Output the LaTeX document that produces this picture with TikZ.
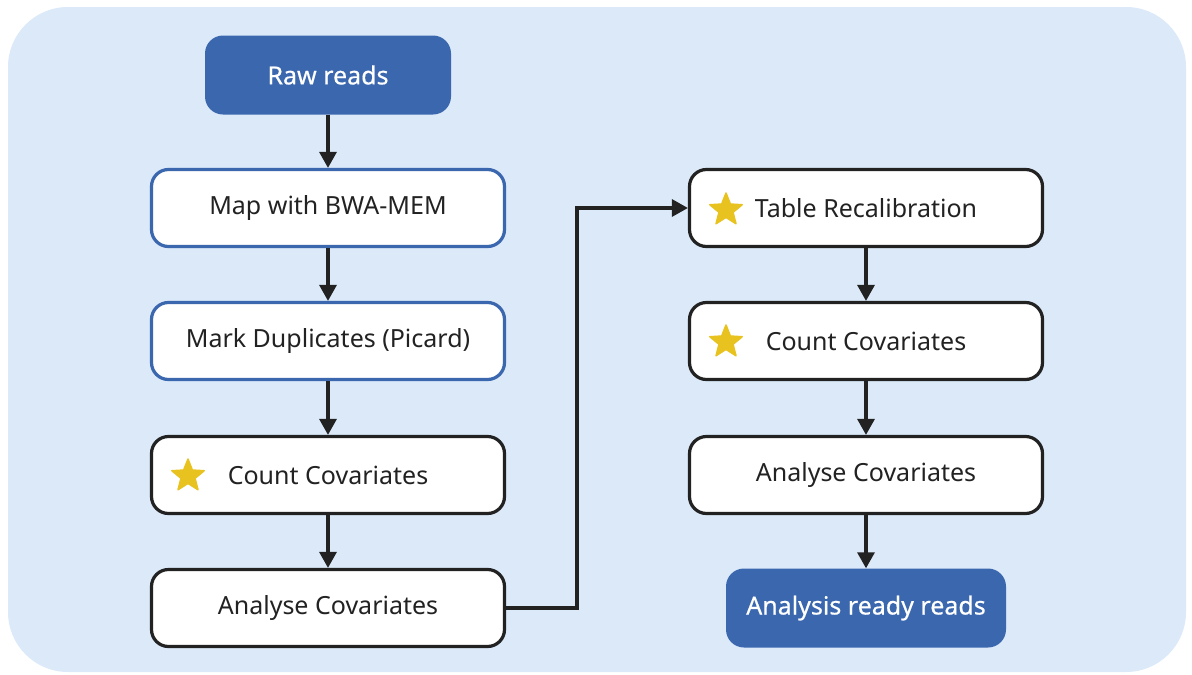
\documentclass[tikz,border=0pt]{standalone}
\usepackage{fontspec}
\setmainfont{Noto Sans}
\newfontfamily\boldish{Noto Sans}[FakeBold=0.5]
\usetikzlibrary{shapes.geometric,arrows.meta}
\definecolor{panel}{HTML}{DBE9F9}
\definecolor{deepblue}{HTML}{3A67AE}
\definecolor{ink}{HTML}{222222}
\definecolor{gold}{HTML}{E8C21E}
\begin{document}
\begin{tikzpicture}[x=1pt,y=-1pt,
  every node/.style={font=\fontsize{25}{29}\selectfont},
  stepbox/.style={draw=ink,line width=3.2pt,fill=white,rounded corners=17pt,
    minimum width=353pt,minimum height=77pt,text=ink},
  bluebox/.style={stepbox,draw=deepblue},
  endbox/.style={fill=deepblue,rounded corners=18pt,minimum height=79pt,text=white,
    font=\boldish\fontsize{25}{29}\selectfont},
  flow/.style={draw=ink,line width=3.2pt,-{Triangle[length=16pt,width=17pt]}},
  starmark/.style={star,star points=5,star point ratio=2.3,fill=gold,draw=gold,
    line width=1.5pt,line join=round,minimum size=34pt,inner sep=0pt}]
\useasboundingbox (0,0) rectangle (1192,675);
% light panel behind the whole flow
\path[fill=panel,rounded corners=60pt] (8,7) rectangle (1186,672);

\node[endbox,minimum width=246pt] (raw) at (328,75) {Raw reads};
\node[bluebox] (map) at (328,208) {Map with BWA-MEM};
\node[bluebox] (dup) at (328,341) {Mark Duplicates (Picard)};
\node[stepbox] (cnt1) at (328,475) {Count Covariates};
\node[stepbox] (ana1) at (328,608) {Analyse Covariates};

\node[stepbox] (tab) at (866,208) {Table Recalibration};
\node[stepbox] (cnt2) at (866,341) {Count Covariates};
\node[stepbox] (ana2) at (866,475) {Analyse Covariates};
\node[endbox,minimum width=280pt] (ready) at (866,608) {Analysis ready reads};

\node[starmark] (s1) at (188,476) {};
\node[starmark] (s2) at (726,210) {};
\node[starmark] (s3) at (726,342) {};

\draw[flow] (raw) -- (map);
\draw[flow] (map) -- (dup);
\draw[flow] (dup) -- (cnt1);
\draw[flow] (cnt1) -- (ana1);
\coordinate (bend) at (577,608);
\draw[flow] (ana1.east) -- (bend) |- (tab.west);
\draw[flow] (tab) -- (cnt2);
\draw[flow] (cnt2) -- (ana2);
\draw[flow] (ana2) -- (ready);
\end{tikzpicture}
\end{document}
